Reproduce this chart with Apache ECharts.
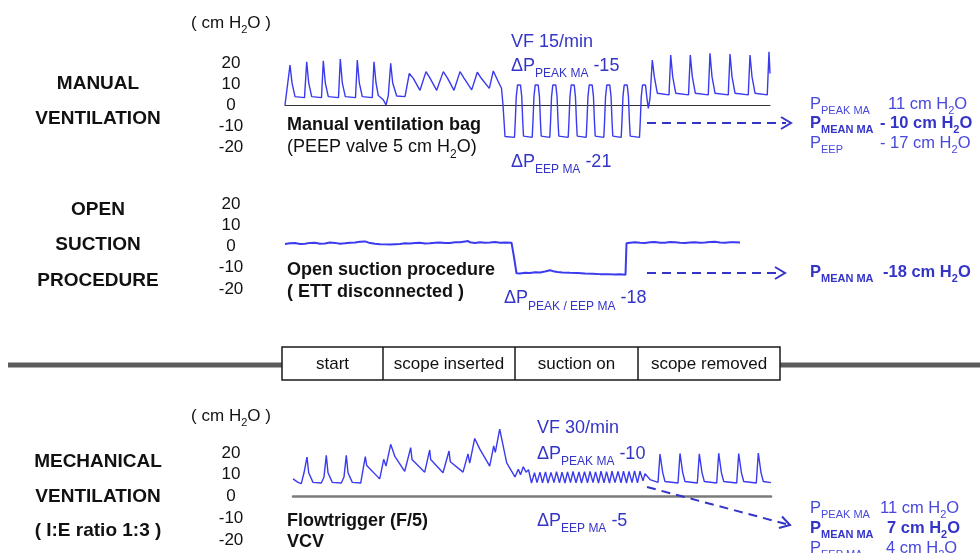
<!DOCTYPE html>
<html>
<head>
<meta charset="utf-8">
<title>Airway pressure during suction</title>
<script src="https://cdn.jsdelivr.net/npm/echarts@6.0.0/dist/echarts.min.js"></script>
<style>
html,body{margin:0;padding:0;background:#ffffff;}
#chart{width:980px;height:553px;}
</style>
</head>
<body>
<div id="chart"></div>
<script>
// ================= DATA (time in s, pressure in cm H2O) =================
const pressureMin = -20;
const pressureMax = 20;
const pressureStep = 10;

// Manual ventilation bag
const manualTrace = [
[0,0],[0.4,0.5],[1.0,19],[1.4,10.5],[2.0,4],[3.9,3.5],
[4.34,20.6],[4.74,10.5],[5.34,4],[7.3,3.5],
[7.66,21.1],[8.06,10.5],[8.66,4],[10.7,3.5],
[11.06,21.9],[11.46,10.5],[12.06,4],[14.1,3.5],
[14.46,21.4],[14.86,10.5],[15.46,4],[17.45,3.5],
[17.8,20.6],[18.2,10.5],[18.66,4.5],[19.66,2.5],[20.2,0],[20.66,4.5],
[21.14,19.8],[21.54,10.5],[22.34,4.3],[24.0,4],
[24.86,15],[25.66,12.7],[27.0,7],
[28.2,15.9],[29.0,12.8],[30.34,7],
[31.66,15.9],[32.5,12.8],[33.8,7],
[35.0,15.9],[35.8,12.8],[37.34,7.2],
[38.46,15.6],[39.3,12.6],[40.86,7.9],
[41.66,16.2],[42.66,11.1],[43.3,8],[43.6,0],[44.0,-15],[44.3,-15.4],
[45.9,-15.4],[46.05,-8],[46.25,4],[46.5,9.5],[46.8,10.3],[47.1,9.5],[47.35,4],[47.55,-8],[47.7,-14.8],[48.0,-15.4],
[49.44,-15.4],[49.59,-8],[49.79,4],[50.04,9.5],[50.34,10.3],[50.64,9.5],[50.89,4],[51.09,-8],[51.24,-14.8],[51.54,-15.4],
[52.96,-15.4],[53.11,-8],[53.31,4],[53.56,9.5],[53.86,10.3],[54.16,9.5],[54.41,4],[54.61,-8],[54.76,-14.8],[55.06,-15.4],
[56.64,-15.4],[56.79,-8],[56.99,4],[57.24,9.5],[57.54,10.3],[57.84,9.5],[58.09,4],[58.29,-8],[58.44,-14.8],[58.74,-15.4],
[60.24,-15.4],[60.39,-8],[60.59,4],[60.84,9.5],[61.14,10.3],[61.44,9.5],[61.69,4],[61.89,-8],[62.04,-14.8],[62.34,-15.4],
[63.76,-15.4],[63.91,-8],[64.11,4],[64.36,9.5],[64.66,10.3],[64.96,9.5],[65.21,4],[65.41,-8],[65.56,-14.8],[65.86,-15.4],
[67.24,-15.4],[67.39,-8],[67.59,4],[67.84,9.5],[68.14,10.3],[68.44,9.5],[68.69,4],[68.89,-8],[69.04,-14.8],[69.34,-15.4],
[70.9,-15.4],[71.05,-8],[71.25,4],[71.5,9.5],[71.8,10.3],[72.1,9.5],[72.35,4],[72.66,-1.6],[73.0,3],
[73.46,21.4],[73.86,13.5],[74.46,5.6],[76.8,4.8],
[77.14,23.8],[77.54,13.5],[78.14,5.6],[80.7,4.8],
[81.06,23.8],[81.46,13.5],[82.06,5.6],[84.65,4.8],
[85.0,24.6],[85.4,13.5],[86.0,5.6],[88.65,4.8],
[89.0,24.3],[89.4,13.5],[90.0,5.6],[92.65,4.8],
[93.0,23.8],[93.4,13.5],[94.0,5.6],[96.45,4.8],
[96.8,25.4],[97.0,15]
];

// Open suction procedure (ETT disconnected)
const suctionTrace = [
[0,1.2],[1,1.5],[2,1.6],[3,1.2],[4,1.3],[5,1.7],[6,1.8],[7,1.3],[8,1.4],[9,1.9],[10,1.7],[11,1.3],
[12,1.5],[13,1.8],[14,1.9],[15,2.2],[16,2.4],[17,1.6],[18,1.3],[19,1.1],[20,1.0],[21,0.9],[22,1.1],
[23,1.2],[24,1.5],[25,1.4],[26,1.6],[27,1.8],[28,1.4],[29,1.5],[30,1.8],[31,1.9],[32,1.6],[33,1.7],
[34,2.0],[35,2.0],[36,2.3],[36.5,2.6],[37,2.0],[38,1.7],[39,2.0],[40,1.8],[41,1.9],[42,2.1],[43,1.8],
[44,1.9],[45.3,1.8],[45.8,-5],[46.3,-12.6],[47,-12.7],[48,-12.4],[49,-12.5],[50,-12.1],[51,-12.2],
[52,-11.8],[53,-11.2],[53.6,-11.6],[54.5,-12.0],[55.5,-12.2],[57,-12.4],[58.5,-12.5],[60,-12.7],
[61.5,-12.8],[63,-13.0],[64.5,-13.0],[66,-13.2],[67,-13.1],[68.1,-13.3],[68.3,1.5],[69,1.8],[70,2.0],
[71,1.8],[72,1.7],[73,2.0],[74,2.1],[75,1.8],[76,1.8],[77,2.1],[78,2.0],[79,1.8],[80,1.7],[81,1.9],
[82,2.0],[83,1.8],[84,1.9],[85,2.1],[86,2.2],[87,1.9],[88,1.8],[89,2.0],[90,2.0],[91,1.9]
];

// Mechanical ventilation (flowtrigger F/5, VCV)
const mechanicalTrace = [
[0,8.1],[1.0,6.5],[1.66,5.9],[2.2,10.9],[2.8,18.1],[3.14,10.9],[4.0,6.5],[5.66,6.2],
[6.2,9],[6.66,18.9],[7.0,10.9],[7.86,6.5],[9.66,6.2],
[10.2,9],[10.66,18.9],[11.0,10.9],[11.86,6.5],[13.54,6.2],
[14.46,18.3],[14.74,14.3],[17.34,8.1],
[18.14,17.1],[18.46,18],[18.6,14],[19.54,24],[20.34,18.6],[22.34,11.6],
[23.54,22.5],[23.8,17],[24.2,16.7],[26.34,11.2],
[27.34,21.4],[27.54,17],[30.0,10.9],
[31.2,20.9],[31.46,16],[34.0,11.2],
[35.0,19.6],[35.34,15.3],[36.34,26.7],[37.34,21.9],[39.34,14],
[40.14,23.3],[40.46,20.3],[41.34,31],[42.74,15.5],[44.4,9],
[45.06,12.5],[45.5,10],[46.06,13.7],[46.6,11.2],[47.1,12.3],
[47.7,6.2],[48.3,11.0],[48.8,6.4],[49.4,11.2],[49.9,6.3],[50.5,11.3],[51.0,6.2],[51.6,11.1],
[52.2,6.4],[52.7,11.4],[53.3,6.3],[53.8,11.2],[54.4,6.2],[54.9,11.3],[55.5,6.4],[56.0,11.5],
[56.6,6.3],[57.2,11.3],[57.7,6.2],[58.3,11.4],[58.9,6.3],[59.4,11.5],[60.0,6.4],[60.5,11.3],
[61.1,6.2],[61.6,11.6],[62.2,6.3],[62.7,11.4],[63.3,6.2],[63.8,11.6],[64.4,6.4],[65.0,11.5],
[65.6,6.3],[66.1,11.7],[66.7,6.2],[67.2,11.5],[67.8,6.4],[68.3,11.8],[68.9,6.3],[69.4,11.6],
[70.0,7.2],[70.4,10.5],[71.4,7.8],[73.0,6.5],
[73.4,19.5],[73.94,11],[74.4,6.9],[77.0,6.2],
[77.4,19.8],[77.94,11],[78.4,6.9],[80.86,6.2],
[81.26,19.6],[81.8,11],[82.26,6.9],[84.74,6.2],
[85.14,19.9],[85.68,11],[86.14,6.9],[88.74,6.2],
[89.14,19.7],[89.68,11],[90.14,6.9],[92.66,6.2],
[93.06,20.0],[93.6,11],[94.06,6.9],[95.6,6.4]
];

const panelTitles = [
  ['MANUAL', 'VENTILATION'],
  ['OPEN', 'SUCTION', 'PROCEDURE'],
  ['MECHANICAL', 'VENTILATION', '( I:E ratio 1:3 )']
];
const phaseLabels = ['start', 'scope inserted', 'suction on', 'scope removed'];

// ================= RENDER =================
const FONT = "'Liberation Sans', Arial, Helvetica, sans-serif";
const BLACK = '#111111';
const BLUE = '#3434c8';
const BLUE_LIGHT = '#4848dc';
const TRACE = '#3a3aee';

function rich(size, subSize, color, weight) {
  return {
    n: {fontSize: size, fontFamily: FONT, fontWeight: weight, fill: color, lineHeight: size + 4, verticalAlign: 'top'},
    s: {fontSize: subSize, fontFamily: FONT, fontWeight: weight, fill: color, lineHeight: subSize,
        padding: [Math.round(size * 0.6), 0, 0, 0], verticalAlign: 'top'}
  };
}

const graphics = [];
function text(x, y, str, o) {
  o = o || {};
  const a = o.align || 'left';
  graphics.push({
    type: 'text', x: x, y: o.rich ? y + 3 : y, z: 10,
    style: {
      text: str,
      fill: o.fill || BLACK,
      fontFamily: FONT,
      fontSize: o.fontSize || 18,
      fontWeight: o.fontWeight || 'normal',
      align: a, textAlign: a,
      verticalAlign: 'middle', textVerticalAlign: 'middle',
      rich: o.rich
    }
  });
}
function line(x1, y1, x2, y2, st, z) {
  graphics.push({type: 'line', z: z || 5, shape: {x1: x1, y1: y1, x2: x2, y2: y2}, style: st});
}
function poly(points, st) {
  graphics.push({type: 'polyline', z: 5, shape: {points: points}, style: st});
}

// left titles
const titleY = [[84, 119], [210, 245, 281], [462, 497, 531]];
panelTitles.forEach((lines, p) => {
  lines.forEach((t, i) => text(98, titleY[p][i], t, {align: 'center', fontWeight: 'bold', fontSize: 19}));
});

// unit labels
const rUnit = rich(17, 11, BLACK, 'normal');
text(231, 22, '{n|( cm H}{s|2}{n|O )}', {align: 'center', rich: rUnit});
text(231, 415, '{n|( cm H}{s|2}{n|O )}', {align: 'center', rich: rUnit});

// panel 1 annotations
const rBlack = rich(18, 12, BLACK, 'normal');
const rBlue = rich(18, 12, BLUE, 'normal');
const rRight = rich(16.5, 11, BLUE_LIGHT, 'normal');
const rRightB = rich(16.5, 11, BLUE, 'bold');
text(287, 125, 'Manual ventilation bag', {fontWeight: 'bold'});
text(287, 146, '{n|(PEEP valve 5 cm H}{s|2}{n|O)}', {rich: rBlack});
text(511, 42, 'VF 15/min', {fill: BLUE});
text(511, 65, '{n|ΔP}{s|PEAK MA}{n| -15}', {rich: rBlue});
text(511, 161, '{n|ΔP}{s|EEP MA}{n| -21}', {rich: rBlue});
text(810, 103, '{n|P}{s|PEAK MA}', {rich: rRight});
text(888, 103, '{n|11 cm H}{s|2}{n|O}', {rich: rRight});
text(810, 122, '{n|P}{s|MEAN MA}', {rich: rRightB});
text(880, 122, '{n|- 10 cm H}{s|2}{n|O}', {rich: rRightB});
text(810, 142, '{n|P}{s|EEP}', {rich: rRight});
text(880, 142, '{n|- 17 cm H}{s|2}{n|O}', {rich: rRight});

// panel 2 annotations
text(287, 270, 'Open suction procedure', {fontWeight: 'bold'});
text(287, 292, '( ETT disconnected )', {fontWeight: 'bold'});
text(504, 297.5, '{n|ΔP}{s|PEAK / EEP MA}{n| -18}', {rich: rBlue});
text(810, 271, '{n|P}{s|MEAN MA}', {rich: rRightB});
text(883, 271, '{n|-18 cm H}{s|2}{n|O}', {rich: rRightB});

// panel 3 annotations
text(287, 521, 'Flowtrigger (F/5)', {fontWeight: 'bold'});
text(287, 542, 'VCV', {fontWeight: 'bold'});
text(537, 428, 'VF 30/min', {fill: BLUE});
text(537, 453, '{n|ΔP}{s|PEAK MA}{n| -10}', {rich: rBlue});
text(537, 520, '{n|ΔP}{s|EEP MA}{n| -5}', {rich: rBlue});
text(810, 507, '{n|P}{s|PEAK MA}', {rich: rRight});
text(880, 507, '{n|11 cm H}{s|2}{n|O}', {rich: rRight});
text(810, 527, '{n|P}{s|MEAN MA}', {rich: rRightB});
text(887, 527, '{n|7 cm H}{s|2}{n|O}', {rich: rRightB});
text(810, 547, '{n|P}{s|EEP MA}', {rich: rRight});
text(886, 547, '{n|4 cm H}{s|2}{n|O}', {rich: rRight});

// dashed arrows
const dash = {stroke: BLUE, lineWidth: 2, lineDash: [9, 6], fill: 'none'};
const head = {stroke: BLUE, lineWidth: 2, fill: 'none'};
line(647, 123, 786, 123, dash);
poly([[781, 117], [791, 123], [781, 129]], head);
line(647, 273, 780, 273, dash);
poly([[775, 267], [785, 273], [775, 279]], head);
line(647, 487, 786, 524, dash);
poly([[779, 528], [790, 525], [782, 516.5]], head);

// separator with phase box
const sep = {stroke: '#5c5c5c', lineWidth: 5};
line(8, 365, 282, 365, sep);
line(780, 365, 980, 365, sep);
const cellEdges = [282, 383, 515, 638, 780];
graphics.push({type: 'rect', z: 6, shape: {x: 282, y: 347, width: 498, height: 33},
  style: {fill: '#ffffff', stroke: '#1a1a1a', lineWidth: 1.5}});
for (let i = 1; i < cellEdges.length - 1; i++) {
  line(cellEdges[i], 347, cellEdges[i], 380, {stroke: '#1a1a1a', lineWidth: 1.5}, 8);
}
phaseLabels.forEach((t, i) => {
  graphics.push({type: 'text', z: 10, x: (cellEdges[i] + cellEdges[i + 1]) / 2, y: 364,
    style: {text: t, fill: BLACK, fontFamily: FONT, fontSize: 17, align: 'center', textAlign: 'center',
            verticalAlign: 'middle', textVerticalAlign: 'middle'}});
});

// axes
function xAxisFor(idx, max, lineStyle) {
  return {
    gridIndex: idx, type: 'value', min: 0, max: max,
    axisLine: lineStyle ? {show: true, onZero: true, lineStyle: lineStyle} : {show: false},
    axisTick: {show: false}, axisLabel: {show: false}, splitLine: {show: false}
  };
}
function yAxisFor(idx, margin) {
  return {
    gridIndex: idx, type: 'value', min: pressureMin, max: pressureMax, interval: pressureStep,
    axisLine: {show: false}, axisTick: {show: false}, splitLine: {show: false},
    axisLabel: {show: true, margin: margin, align: 'center', fontSize: 17, color: BLACK, fontFamily: FONT}
  };
}
function trace(idx, data, width) {
  return {
    type: 'line', xAxisIndex: idx, yAxisIndex: idx, data: data,
    showSymbol: false, symbol: 'none', smooth: false, clip: false,
    lineStyle: {color: TRACE, width: width}, z: 3
  };
}

const chart = echarts.init(document.getElementById('chart'), null, {renderer: 'canvas'});
chart.setOption({
  animation: false,
  backgroundColor: '#ffffff',
  grid: [
    {left: 285, top: 63, width: 485, height: 84},
    {left: 285, top: 204, width: 485, height: 85},
    {left: 293, top: 453, width: 478, height: 87}
  ],
  xAxis: [
    xAxisFor(0, 97, {color: '#333333', width: 1}),
    xAxisFor(1, 97, null),
    xAxisFor(2, 95.6, {color: '#7b7b7b', width: 2.5})
  ],
  yAxis: [yAxisFor(0, 54), yAxisFor(1, 54), yAxisFor(2, 62)],
  series: [
    trace(0, manualTrace, 1.4),
    trace(1, suctionTrace, 2),
    trace(2, mechanicalTrace, 1.4)
  ],
  graphic: graphics
});
</script>
</body>
</html>
